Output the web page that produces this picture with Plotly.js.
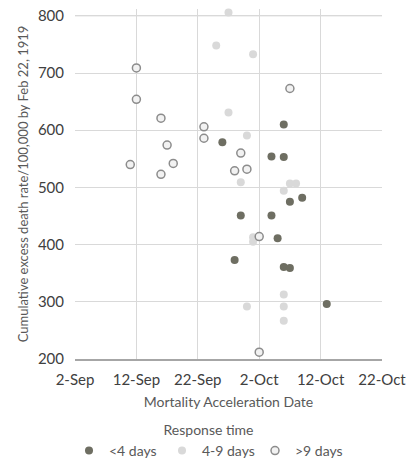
<!DOCTYPE html>
<html>
<head>
<meta charset="utf-8">
<script src="https://cdn.plot.ly/plotly-3.0.1.min.js"></script>
<style>html,body{margin:0;padding:0;background:#fff;}#chart{width:417px;height:458px;}</style>
</head>
<body>
<div id="chart"></div>
<script>
// <4 days
const fastDates = ['1918-09-26','1918-09-29','1918-09-28','1918-10-04','1918-10-06','1918-10-06','1918-10-04','1918-10-05','1918-10-06','1918-10-07','1918-10-07','1918-10-09','1918-10-13'];
const fastRates = [579,451,373,554,553,610,451,411,361,359,475,482,296];
// 4-9 days
const midDates = ['1918-09-27','1918-09-25','1918-10-01','1918-09-27','1918-09-30','1918-09-29','1918-10-07','1918-10-08','1918-10-06','1918-10-01','1918-10-01','1918-10-06','1918-09-30','1918-10-06','1918-10-06'];
const midRates = [806,748,733,631,591,509,507,507,494,413,405,313,292,292,267];
// >9 days
const slowDates = ['1918-09-12','1918-09-12','1918-09-16','1918-09-23','1918-09-23','1918-09-17','1918-09-11','1918-09-18','1918-09-16','1918-09-29','1918-09-28','1918-09-30','1918-10-07','1918-10-02','1918-10-02'];
const slowRates = [709,654,621,606,586,574,540,542,523,560,529,532,673,414,212];

const xTickVals = ['1918-09-02','1918-09-12','1918-09-22','1918-10-02','1918-10-12','1918-10-22'];
const xTickText = ['2-Sep','12-Sep','22-Sep','2-Oct','12-Oct','22-Oct'];
const yTickVals = [200,300,400,500,600,700,800];

const FONT = 'Lato, "Open Sans", sans-serif';

const traces = [
  {x: fastDates, y: fastRates, type: 'scatter', mode: 'markers', name: '<4 days', cliponaxis: false,
   marker: {size: 8, color: '#6e6e62'}},
  {x: midDates, y: midRates, type: 'scatter', mode: 'markers', name: '4-9 days', cliponaxis: false,
   marker: {size: 8, color: '#d9d9d9'}},
  {x: slowDates, y: slowRates, type: 'scatter', mode: 'markers', name: '>9 days', cliponaxis: false,
   marker: {size: 8, color: '#f2f2f2', line: {color: '#8c8c8c', width: 1.5}}}
];

const layout = {
  width: 417, height: 458,
  margin: {l: 74.5, r: 35, t: 8.8, b: 98.7, autoexpand: false},
  paper_bgcolor: '#ffffff', plot_bgcolor: '#ffffff',
  font: {family: FONT, size: 12, color: '#404040'},
  showlegend: true,
  shapes: [
    {type: 'line', xref: 'paper', yref: 'y', x0: 0, x1: 1, y0: 800, y1: 800, line: {color: '#d9d9d9', width: 1}, layer: 'below'}
  ],
  xaxis: {
    type: 'date',
    range: ['1918-09-02', '1918-10-22'],
    tickmode: 'array', tickvals: xTickVals, ticktext: xTickText,
    showgrid: true, gridcolor: '#d9d9d9', gridwidth: 1,
    showline: true, linecolor: '#a6a6a6', linewidth: 1.5,
    zeroline: false, ticks: '',
    ticklabelstandoff: 6,
    tickfont: {family: FONT, size: 15, color: '#404040'},
    title: {text: 'Mortality Acceleration Date', font: {family: FONT, size: 14, color: '#595959'}, standoff: 10}
  },
  yaxis: {
    range: [200, 812],
    tickmode: 'array', tickvals: yTickVals,
    showgrid: true, gridcolor: '#d9d9d9', gridwidth: 1,
    showline: false,
    zeroline: false, ticks: '',
    ticklabelstandoff: 10,
    tickfont: {family: FONT, size: 15, color: '#404040'},
    title: {text: 'Cumulative excess death rate/100,000 by Feb 22, 1919', font: {family: FONT, size: 13, color: '#595959'}, standoff: 6}
  },
  legend: {
    orientation: 'h', xref: 'container', yref: 'container',
    x: 0.5, xanchor: 'center', y: 0.09, yanchor: 'top',
    font: {family: FONT, size: 14, color: '#595959'},
    title: {text: 'Response time', side: 'top center', font: {family: FONT, size: 14, color: '#595959'}},
    itemsizing: 'trace', tracegroupgap: 0, itemwidth: 30, entrywidth: 48
  }
};

Plotly.newPlot('chart', traces, layout, {displayModeBar: false, staticPlot: true});
</script>
</body>
</html>
